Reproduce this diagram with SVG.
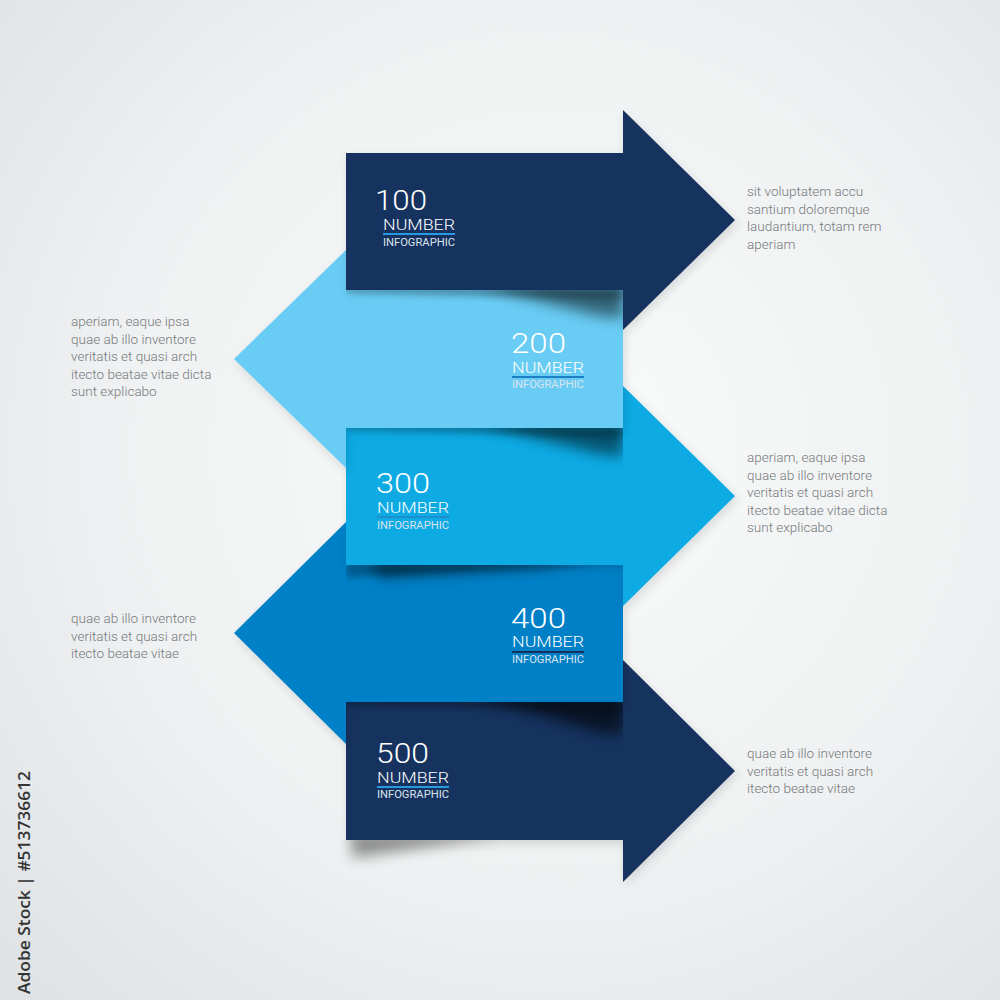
<svg xmlns="http://www.w3.org/2000/svg" width="1000" height="1000" viewBox="0 0 1000 1000">
<defs>
<radialGradient id="bg" cx="0.55" cy="0.45" r="0.75">
<stop offset="0" stop-color="#fafbfb"/>
<stop offset="0.6" stop-color="#eef0f1"/>
<stop offset="1" stop-color="#dfe3e5"/>
</radialGradient>
<filter id="blur" x="-30%" y="-200%" width="160%" height="500%"><feGaussianBlur stdDeviation="7"/></filter>
<filter id="soft" x="-30%" y="-200%" width="160%" height="500%"><feGaussianBlur stdDeviation="3"/></filter>
<filter id="drop" x="-10%" y="-10%" width="130%" height="130%"><feDropShadow dx="2" dy="4" stdDeviation="5" flood-color="#000" flood-opacity="0.12"/></filter>
<clipPath id="c1"><rect x="346" y="290" width="277" height="60"/></clipPath>
<clipPath id="c2"><rect x="346" y="428" width="277" height="60"/></clipPath>
<clipPath id="c3"><rect x="346" y="565" width="277" height="60"/></clipPath>
<clipPath id="c4"><rect x="346" y="702" width="277" height="60"/></clipPath>
<clipPath id="c5"><rect x="300" y="840" width="400" height="60"/></clipPath>
</defs>
<style>
.navy{fill:#17305e}
.light{fill:#69ccf4}
.cyan{fill:#08aae4}
.blue{fill:#0180c7}
.num{font-family:Roboto,"Liberation Sans",sans-serif;font-weight:300;font-size:27px;fill:#ffffff}
.lab{font-family:Roboto,"Liberation Sans",sans-serif;font-weight:300;font-size:15px;fill:#ffffff}
.sub{font-family:Roboto,"Liberation Sans",sans-serif;font-weight:400;font-size:10px;fill:#dbe4ee}
.side{font-family:Roboto,"Liberation Sans",sans-serif;font-weight:300;font-size:13.5px;fill:#767a7d}
.sh{fill:#000;filter:url(#blur)}
.sw{fill:#000;filter:url(#soft)}
</style>
<rect width="1000" height="1000" fill="url(#bg)"/>

<g id="connectors"/>

<g id="step5">
<path class="navy" filter="url(#drop)" d="M346,702 H623 V660 L735,771 L623,882 V840 H346 Z"/>
<g clip-path="url(#c5)"><polygon class="sh" opacity="0.4" points="352,836 500,836 352,858"/></g>
<text class="num" x="376" y="763" textLength="53" lengthAdjust="spacingAndGlyphs">500</text>
<text class="lab" x="377" y="783" textLength="72" lengthAdjust="spacingAndGlyphs">NUMBER</text>
<rect x="377" y="786" width="72" height="2" fill="#2a9ae0"/>
<text class="sub" x="377" y="798" textLength="72" lengthAdjust="spacingAndGlyphs">INFOGRAPHIC</text>
</g>

<g id="step4">
<g clip-path="url(#c4)">
<polygon class="sw" opacity="0.25" points="346,700 623,700 623,712 346,704"/>
<polygon class="sh" opacity="0.6" points="480,698 623,698 623,734 600,732"/>
</g>
<path class="blue" filter="url(#drop)" d="M623,565 V702 H346 V744 L234,633 L346,522 V565 Z"/>
<text class="num" x="511" y="628" textLength="55" lengthAdjust="spacingAndGlyphs">400</text>
<text class="lab" x="512" y="647" textLength="72" lengthAdjust="spacingAndGlyphs">NUMBER</text>
<rect x="512" y="651" width="72" height="2" fill="#17305e"/>
<text class="sub" x="512" y="663" textLength="72" lengthAdjust="spacingAndGlyphs">INFOGRAPHIC</text>
</g>

<g id="step3">
<g clip-path="url(#c3)">
<polygon class="sw" opacity="0.25" points="346,563 623,563 346,578"/>
<polygon class="sh" opacity="0.45" points="370,561 590,561 540,568 380,578"/>
</g>
<path class="cyan" filter="url(#drop)" d="M346,428 H623 V386 L735,496 L623,606 V565 H346 Z"/>
<text class="num" x="376" y="493" textLength="54" lengthAdjust="spacingAndGlyphs">300</text>
<text class="lab" x="377" y="513" textLength="72" lengthAdjust="spacingAndGlyphs">NUMBER</text>
<rect x="377" y="516" width="72" height="2" fill="#1c8fcf"/>
<text class="sub" x="377" y="529" textLength="72" lengthAdjust="spacingAndGlyphs">INFOGRAPHIC</text>
</g>

<g id="step2">
<g clip-path="url(#c2)">
<polygon class="sw" opacity="0.25" points="346,426 623,426 623,438 346,429"/>
<polygon class="sh" opacity="0.5" points="480,424 623,424 623,456 600,454"/>
</g>
<path class="light" filter="url(#drop)" d="M623,290 V428 H346 V468 L234,359 L346,250 V290 Z"/>
<text class="num" x="511" y="353" textLength="55" lengthAdjust="spacingAndGlyphs">200</text>
<text class="lab" x="512" y="373" textLength="72" lengthAdjust="spacingAndGlyphs">NUMBER</text>
<rect x="512" y="376" width="72" height="2" fill="#1d7fc4"/>
<text class="sub" x="512" y="388" textLength="72" lengthAdjust="spacingAndGlyphs">INFOGRAPHIC</text>
</g>

<g id="step1">
<g clip-path="url(#c1)">
<polygon class="sw" opacity="0.25" points="346,288 623,288 623,300 346,292"/>
<polygon class="sh" opacity="0.5" points="480,286 623,286 623,318 600,316"/>
</g>
<path class="navy" filter="url(#drop)" d="M346,153 H623 V110 L735,220 L623,330 V290 H346 Z"/>
<text class="num" x="375" y="210" textLength="52" lengthAdjust="spacingAndGlyphs">100</text>
<text class="lab" x="383" y="230" textLength="72" lengthAdjust="spacingAndGlyphs">NUMBER</text>
<rect x="383" y="233" width="72" height="2" fill="#2a9ae0"/>
<text class="sub" x="383" y="246" textLength="72" lengthAdjust="spacingAndGlyphs">INFOGRAPHIC</text>
</g>

<g id="text1">
<text class="side" x="747" y="196">sit voluptatem accu</text>
<text class="side" x="747" y="213.5">santium doloremque</text>
<text class="side" x="747" y="231">laudantium, totam rem</text>
<text class="side" x="747" y="248.5">aperiam</text>
</g>
<g id="text2">
<text class="side" x="71" y="326">aperiam, eaque ipsa</text>
<text class="side" x="71" y="343.5">quae ab illo inventore</text>
<text class="side" x="71" y="361">veritatis et quasi arch</text>
<text class="side" x="71" y="378.5">itecto beatae vitae dicta</text>
<text class="side" x="71" y="396">sunt explicabo</text>
</g>
<g id="text3">
<text class="side" x="747" y="462">aperiam, eaque ipsa</text>
<text class="side" x="747" y="479.5">quae ab illo inventore</text>
<text class="side" x="747" y="497">veritatis et quasi arch</text>
<text class="side" x="747" y="514.5">itecto beatae vitae dicta</text>
<text class="side" x="747" y="532">sunt explicabo</text>
</g>
<g id="text4">
<text class="side" x="71" y="623">quae ab illo inventore</text>
<text class="side" x="71" y="640.5">veritatis et quasi arch</text>
<text class="side" x="71" y="658">itecto beatae vitae</text>
</g>
<g id="text5">
<text class="side" x="747" y="758">quae ab illo inventore</text>
<text class="side" x="747" y="775.5">veritatis et quasi arch</text>
<text class="side" x="747" y="793">itecto beatae vitae</text>
</g>

<text transform="translate(30,994) rotate(-90)" font-family="'Open Sans','DejaVu Sans',sans-serif" font-weight="600" font-size="16.5" fill="#333" textLength="223" lengthAdjust="spacingAndGlyphs">Adobe Stock | #513736612</text>
</svg>
